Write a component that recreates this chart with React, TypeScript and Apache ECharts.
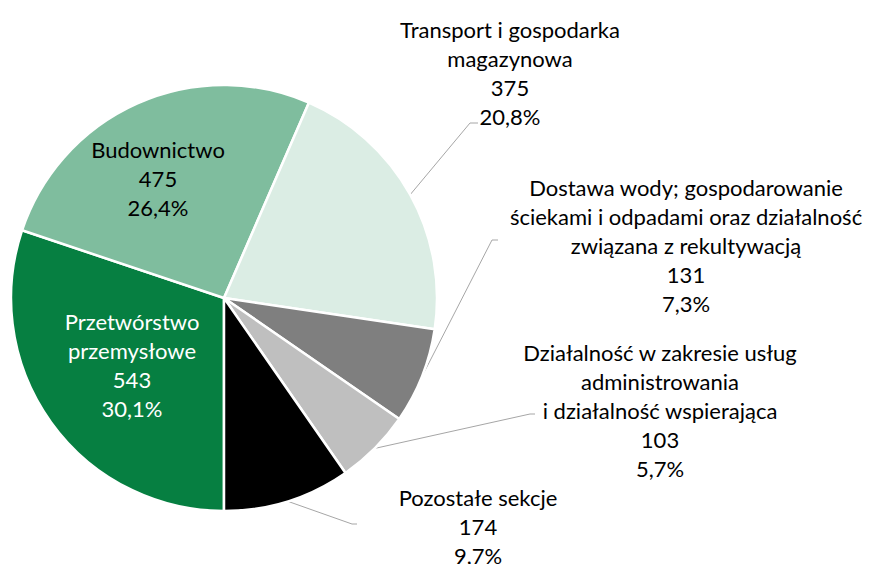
import React, { useEffect, useRef } from "react";
import * as echarts from "echarts";

const categories = [
  "Przetwórstwo\nprzemysłowe",
  "Budownictwo",
  "Transport i gospodarka\nmagazynowa",
  "Dostawa wody; gospodarowanie\nściekami i odpadami oraz działalność\nzwiązana z rekultywacją",
  "Działalność w zakresie usług\nadministrowania\ni działalność wspierająca",
  "Pozostałe sekcje",
];
const values = [543, 475, 375, 131, 103, 174];
const sliceColors = ["#067f41", "#7fbd9e", "#dbede4", "#7f7f7f", "#bfbfbf", "#000000"];
const labelColors = ["#ffffff", "#000000", "#000000", "#000000", "#000000", "#000000"];
const insideLabel = [true, true, false, false, false, false];

// label placement (layout only)
const labelSpots: { x: number; y: number; line?: number[][] }[] = [
  { x: 132, y: 365 },
  { x: 158, y: 178 },
  { x: 510, y: 73, line: [[470, 123], [478, 123]] },
  { x: 686, y: 245, line: [[492, 240], [498, 240]] },
  { x: 660, y: 410, line: [[530, 414], [535, 414]] },
  { x: 478, y: 526, line: [[352, 524], [357, 524]] },
];

export default function App() {
  const ref = useRef<HTMLDivElement>(null);
  useEffect(() => {
    if (!ref.current) return;
    const chart = echarts.init(ref.current, undefined, { renderer: "svg" });
    const data = categories.map((name, i) => ({
      name,
      value: values[i],
      itemStyle: { color: sliceColors[i] },
      label: {
        position: insideLabel[i] ? "inside" : "outside",
        color: labelColors[i],
      },
      labelLine: { show: !insideLabel[i] },
    }));
    chart.setOption({
      animation: false,
      backgroundColor: "#ffffff",
      series: [
        {
          type: "pie",
          center: [224, 298],
          radius: 213,
          startAngle: 270,
          clockwise: true,
          percentPrecision: 1,
          avoidLabelOverlap: false,
          emphasis: { disabled: true },
          itemStyle: { borderColor: "#ffffff", borderWidth: 2.5 },
          label: {
            show: true,
            fontFamily: "Lato",
            fontSize: 22,
            lineHeight: 29,
            align: "center",
            formatter: (p: any) =>
              `${p.name}\n${p.value}\n${p.percent.toFixed(1).replace(".", ",")}%`,
          },
          labelLine: {
            show: true,
            lineStyle: { color: "#a6a6a6", width: 1 },
          },
          labelLayout: (params: any) => {
            const s = labelSpots[params.dataIndex];
            const res: any = { x: s.x, y: s.y, align: "center", verticalAlign: "middle" };
            if (s.line && params.labelLinePoints) {
              res.labelLinePoints = [params.labelLinePoints[0], ...s.line];
            }
            return res;
          },
          data,
        },
      ],
    });
    return () => chart.dispose();
  }, []);
  return (
    <div
      ref={ref}
      style={{ position: "absolute", left: 0, top: 0, width: 877, height: 564 }}
    />
  );
}
